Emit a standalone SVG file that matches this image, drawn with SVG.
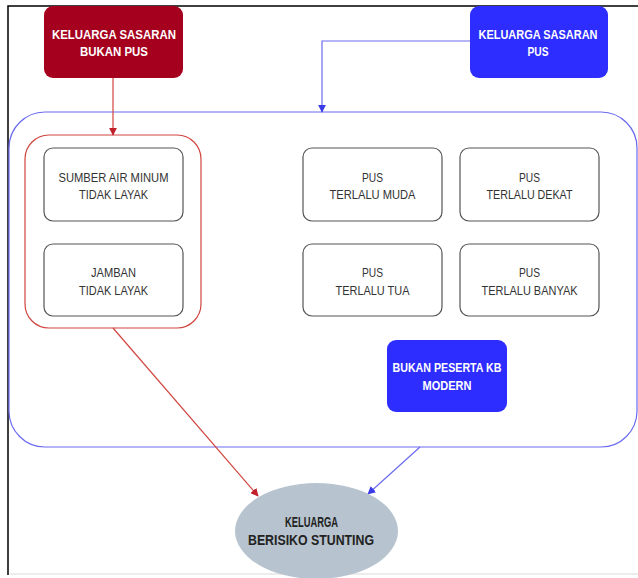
<svg xmlns="http://www.w3.org/2000/svg" width="638" height="578" viewBox="0 0 638 578">
<style>
.frame{fill:none;stroke:#000;stroke-width:1.5}
.ht{font-family:"Liberation Sans",Arial,sans-serif;font-weight:bold;font-size:13.5px;fill:#fff;text-anchor:middle}
.box{fill:#fff;stroke:#555;stroke-width:1.2}
.bt{font-family:"Liberation Sans",Arial,sans-serif;font-size:13px;fill:#333;text-anchor:middle}
.et{font-family:"Liberation Sans",Arial,sans-serif;font-weight:bold;font-size:14px;fill:#222;text-anchor:middle}
.red{fill:none;stroke:#d0453f;stroke-width:1.2}
.blue{fill:none;stroke:#6b6bf0;stroke-width:1.2}
</style>
<defs>
<marker id="ar" viewBox="0 0 10 10" refX="9" refY="5" markerWidth="8" markerHeight="8" orient="auto" markerUnits="userSpaceOnUse"><path d="M0,0 L10,5 L0,10 z" fill="#c0202a"/></marker>
<marker id="ab" viewBox="0 0 10 10" refX="9" refY="5" markerWidth="8" markerHeight="8" orient="auto" markerUnits="userSpaceOnUse"><path d="M0,0 L10,5 L0,10 z" fill="#3a3ae8"/></marker>
</defs>
<rect x="0" y="0" width="638" height="578" fill="#fff"/>
<path class="frame" d="M8,575 L8,6 L638,6"/>
<line x1="10" y1="574" x2="638" y2="574" stroke="#e6e6e6" stroke-width="1.5"/>

<g id="container-pus">
<rect x="9" y="112" width="628" height="335" rx="36" ry="36" class="blue"/>
</g>
<g id="container-bukan-pus">
<rect x="25" y="135" width="176" height="193" rx="24" ry="24" class="red"/>
</g>

<g id="connectors">
<line x1="113" y1="77" x2="113" y2="135" stroke="#d0453f" stroke-width="1.2" marker-end="url(#ar)"/>
<polyline points="470,41 322,41 322,112" fill="none" stroke="#6b6bf0" stroke-width="1.2" marker-end="url(#ab)"/>
<line x1="113" y1="328" x2="258" y2="496" stroke="#d0453f" stroke-width="1.2" marker-end="url(#ar)"/>
<line x1="420" y1="447" x2="368" y2="494" stroke="#6b6bf0" stroke-width="1.2" marker-end="url(#ab)"/>
</g>

<g id="keluarga-bukan-pus">
<rect x="44" y="6" width="139" height="72" rx="9" ry="9" fill="#a5001e"/>
<text class="ht" x="114" y="39" textLength="124" lengthAdjust="spacingAndGlyphs">KELUARGA SASARAN</text>
<text class="ht" x="114" y="56" textLength="68" lengthAdjust="spacingAndGlyphs">BUKAN PUS</text>
</g>
<g id="keluarga-pus">
<rect x="470" y="6" width="138" height="72" rx="9" ry="9" fill="#2d2dff"/>
<text class="ht" x="538" y="39" textLength="119" lengthAdjust="spacingAndGlyphs">KELUARGA SASARAN</text>
<text class="ht" x="538" y="56" textLength="21" lengthAdjust="spacingAndGlyphs">PUS</text>
</g>

<g id="sumber-air">
<rect x="44" y="148" width="139" height="73" rx="9" ry="9" class="box"/>
<text class="bt" x="113.5" y="182" textLength="110" lengthAdjust="spacingAndGlyphs">SUMBER AIR MINUM</text>
<text class="bt" x="113.5" y="199" textLength="69" lengthAdjust="spacingAndGlyphs">TIDAK LAYAK</text>
</g>
<g id="jamban">
<rect x="44" y="244" width="139" height="72" rx="9" ry="9" class="box"/>
<text class="bt" x="113.5" y="277" textLength="45" lengthAdjust="spacingAndGlyphs">JAMBAN</text>
<text class="bt" x="113.5" y="295" textLength="69" lengthAdjust="spacingAndGlyphs">TIDAK LAYAK</text>
</g>
<g id="pus-muda">
<rect x="303" y="148" width="139" height="73" rx="9" ry="9" class="box"/>
<text class="bt" x="372.5" y="182" textLength="21" lengthAdjust="spacingAndGlyphs">PUS</text>
<text class="bt" x="372.5" y="199" textLength="86" lengthAdjust="spacingAndGlyphs">TERLALU MUDA</text>
</g>
<g id="pus-dekat">
<rect x="460" y="148" width="139" height="73" rx="9" ry="9" class="box"/>
<text class="bt" x="529.5" y="182" textLength="21" lengthAdjust="spacingAndGlyphs">PUS</text>
<text class="bt" x="529.5" y="199" textLength="86" lengthAdjust="spacingAndGlyphs">TERLALU DEKAT</text>
</g>
<g id="pus-tua">
<rect x="303" y="244" width="139" height="72" rx="9" ry="9" class="box"/>
<text class="bt" x="372.5" y="277" textLength="21" lengthAdjust="spacingAndGlyphs">PUS</text>
<text class="bt" x="372.5" y="295" textLength="74" lengthAdjust="spacingAndGlyphs">TERLALU TUA</text>
</g>
<g id="pus-banyak">
<rect x="460" y="244" width="139" height="72" rx="9" ry="9" class="box"/>
<text class="bt" x="529.5" y="277" textLength="21" lengthAdjust="spacingAndGlyphs">PUS</text>
<text class="bt" x="529.5" y="295" textLength="96" lengthAdjust="spacingAndGlyphs">TERLALU BANYAK</text>
</g>
<g id="bukan-kb">
<rect x="387" y="340" width="120" height="72" rx="9" ry="9" fill="#2d2dff"/>
<text class="ht" x="447" y="372" textLength="109" lengthAdjust="spacingAndGlyphs">BUKAN PESERTA KB</text>
<text class="ht" x="447" y="390" textLength="49" lengthAdjust="spacingAndGlyphs">MODERN</text>
</g>
<g id="berisiko-stunting">
<ellipse cx="316.5" cy="531" rx="81.5" ry="48" fill="#b7c3ce"/>
<text class="et" x="311.5" y="527" textLength="53" lengthAdjust="spacingAndGlyphs">KELUARGA</text>
<text class="et" x="311" y="545" textLength="126" lengthAdjust="spacingAndGlyphs">BERISIKO STUNTING</text>
</g>
</svg>
